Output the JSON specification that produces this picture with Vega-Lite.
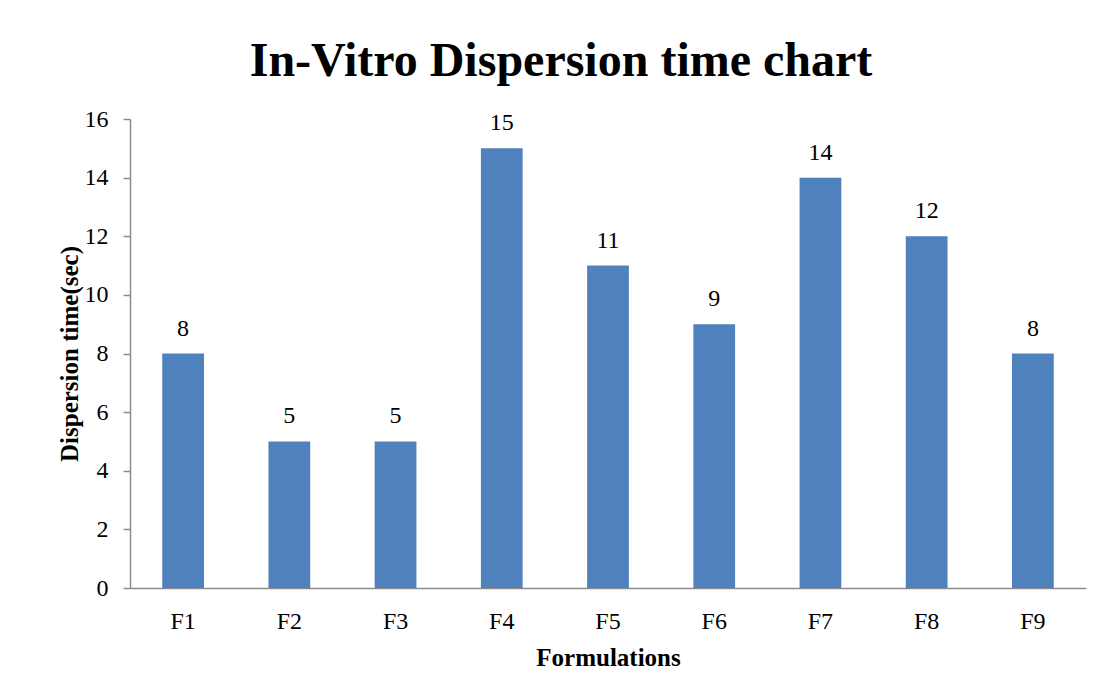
{
  "$schema": "https://vega.github.io/schema/vega-lite/v6.json",
  "width": 956,
  "height": 469,
  "autosize": {"type": "none"},
  "padding": {"left": 130, "top": 119, "right": 19, "bottom": 112},
  "background": "white",
  "title": {
    "text": "In-Vitro Dispersion time chart",
    "font": "Liberation Serif",
    "fontSize": 48,
    "fontWeight": "bold",
    "color": "black",
    "anchor": "middle",
    "frame": "group",
    "baseline": "alphabetic",
    "offset": -17,
    "dx": -47
  },
  "data": {
    "values": [
      {"formulation": "F1", "time": 8},
      {"formulation": "F2", "time": 5},
      {"formulation": "F3", "time": 5},
      {"formulation": "F4", "time": 15},
      {"formulation": "F5", "time": 11},
      {"formulation": "F6", "time": 9},
      {"formulation": "F7", "time": 14},
      {"formulation": "F8", "time": 12},
      {"formulation": "F9", "time": 8}
    ]
  },
  "encoding": {
    "x": {
      "field": "formulation",
      "type": "nominal",
      "sort": null,
      "scale": {"paddingInner": 0.607, "paddingOuter": 0.3035},
      "axis": {
        "title": "Formulations",
        "labelAngle": 0,
        "ticks": false,
        "tickSize": 0,
        "labelPadding": 40,
        "labelBaseline": "alphabetic",
        "titleY": 77,
        "titleBaseline": "alphabetic"
      }
    },
    "y": {
      "field": "time",
      "type": "quantitative",
      "scale": {"domain": [0, 16], "nice": false},
      "axis": {
        "title": "Dispersion time(sec)",
        "values": [0, 2, 4, 6, 8, 10, 12, 14, 16],
        "grid": false,
        "tickSize": 7,
        "labelPadding": 15,
        "titleX": -53,
        "titleY": 234.5,
        "titleAngle": -90,
        "titleAlign": "center",
        "titleBaseline": "alphabetic"
      }
    }
  },
  "layer": [
    {"mark": {"type": "bar", "color": "#4f81bd"}},
    {
      "mark": {
        "type": "text",
        "dy": -18,
        "baseline": "alphabetic",
        "font": "Liberation Serif",
        "fontSize": 24,
        "color": "black"
      },
      "encoding": {"text": {"field": "time", "type": "quantitative"}}
    }
  ],
  "config": {
    "font": "Liberation Serif",
    "text": {"font": "Liberation Serif"},
    "view": {"stroke": null},
    "axis": {
      "labelFont": "Liberation Serif",
      "labelFontSize": 24,
      "labelColor": "black",
      "titleFont": "Liberation Serif",
      "titleFontSize": 25,
      "titleFontWeight": "bold",
      "titleColor": "black",
      "domainColor": "#8c8c8c",
      "domainWidth": 1.5,
      "tickColor": "#8c8c8c",
      "tickWidth": 1.5
    }
  }
}
